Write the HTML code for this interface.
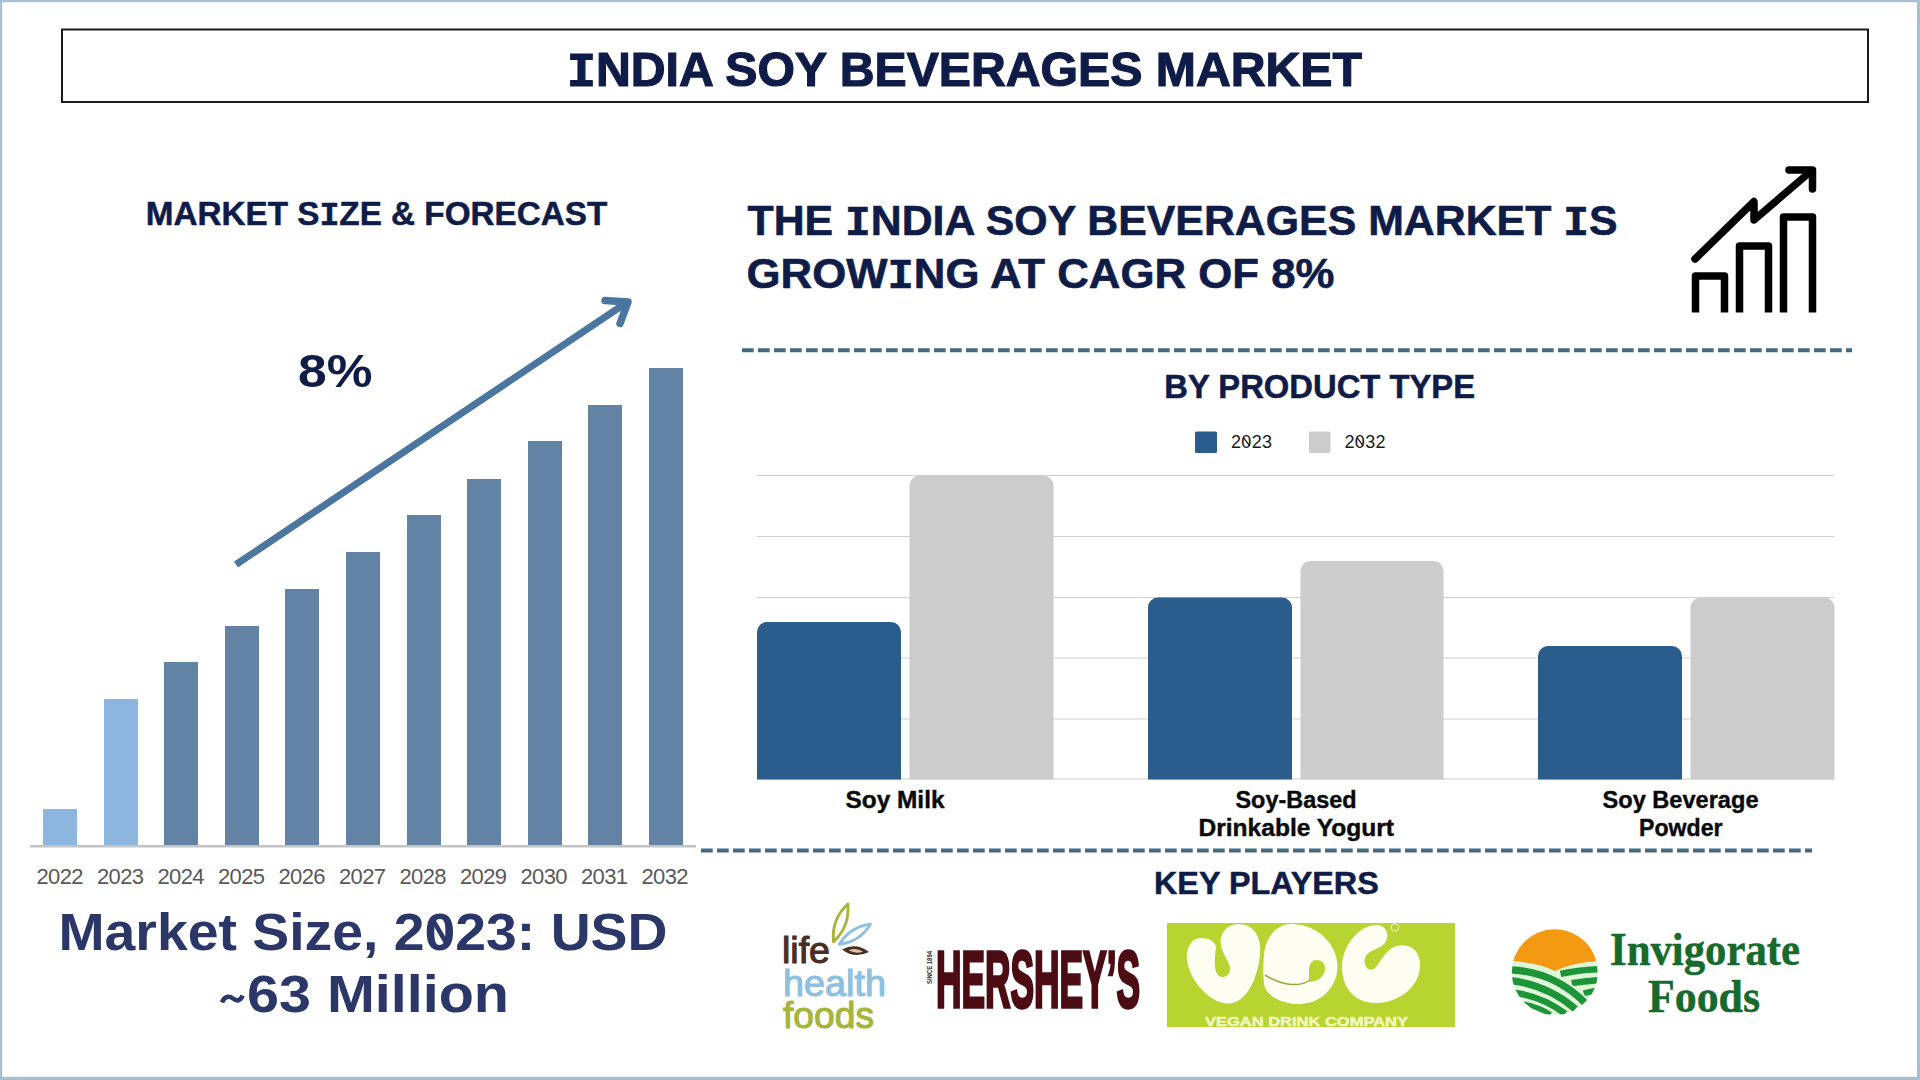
<!DOCTYPE html>
<html>
<head>
<meta charset="utf-8">
<style>
html,body{margin:0;padding:0;background:#fff;}
body{width:1920px;height:1080px;overflow:hidden;position:relative;}
svg{display:block;position:absolute;left:0;top:0;}
text{font-family:"Liberation Sans", sans-serif;}
.b{font-weight:bold;}
.navy{fill:#101c48;}
.m{font-family:"Liberation Mono", monospace;}
</style>
</head>
<body>
<svg width="1920" height="1080" viewBox="0 0 1920 1080">
  <!-- page frame -->
  <rect x="0" y="0" width="1920" height="1080" fill="#ffffff"/>
  <g fill="#a8bfd0"><rect x="0" y="0" width="1920" height="2.2"/><rect x="0" y="0" width="2.2" height="1080"/><rect x="1917" y="0" width="3" height="1080"/><rect x="0" y="1076.8" width="1920" height="3.2"/></g>

  <!-- title box -->
  <rect x="62" y="29.5" width="1806" height="72.5" fill="none" stroke="#1a1a1f" stroke-width="2"/>
  <text id="t_title" class="b navy" x="567" y="85.8" font-size="48.5" stroke="#101c48" stroke-width="1.2" textLength="795" lengthAdjust="spacingAndGlyphs"><tspan class="m">I</tspan>NDIA SOY BEVERAGES MARKET</text>

  <!-- left section -->
  <text id="t_msf" class="b navy" stroke="#101c48" stroke-width="0.5" x="145.7" y="224.8" font-size="33" textLength="461.6" lengthAdjust="spacingAndGlyphs">MARKET S<tspan class="m">I</tspan>ZE &amp; FORECAST</text>

  <g id="leftbars">
    <rect x="43" y="809" width="34" height="37" fill="#8cb6de"/>
    <rect x="104" y="699" width="34" height="147" fill="#8cb6de"/>
    <rect x="164" y="662" width="34" height="184" fill="#6283a4"/>
    <rect x="225" y="626" width="34" height="220" fill="#6283a4"/>
    <rect x="285" y="589" width="34" height="257" fill="#6283a4"/>
    <rect x="346" y="552" width="34" height="294" fill="#6283a4"/>
    <rect x="407" y="515" width="34" height="331" fill="#6283a4"/>
    <rect x="467" y="479" width="34" height="367" fill="#6283a4"/>
    <rect x="528" y="441" width="34" height="405" fill="#6283a4"/>
    <rect x="588" y="405" width="34" height="441" fill="#6283a4"/>
    <rect x="649" y="368" width="34" height="478" fill="#6283a4"/>
  </g>
  <rect x="30" y="845" width="666" height="2.5" fill="#c3c3c3"/>
  <g id="years" font-size="22" fill="#595959">
    <text x="36.5" y="884.4" textLength="47">2022</text>
    <text x="97" y="884.4" textLength="47">2023</text>
    <text x="157.5" y="884.4" textLength="47">2024</text>
    <text x="218" y="884.4" textLength="47">2025</text>
    <text x="278.5" y="884.4" textLength="47">2026</text>
    <text x="339" y="884.4" textLength="47">2027</text>
    <text x="399.5" y="884.4" textLength="47">2028</text>
    <text x="460" y="884.4" textLength="47">2029</text>
    <text x="520.5" y="884.4" textLength="47">2030</text>
    <text x="581" y="884.4" textLength="47">2031</text>
    <text x="641.5" y="884.4" textLength="47">2032</text>
  </g>

  <!-- growth arrow -->
  <g stroke="#4a76a0" stroke-width="7" fill="none">
    <line x1="236" y1="564.5" x2="626" y2="303" stroke-linecap="butt"/>
    <polyline points="605,300.5 628,302 620,323.5" stroke-linejoin="round" stroke-linecap="round" stroke-width="7.5"/>
  </g>
  <text id="t_8" class="b navy" x="298" y="387" font-size="46" textLength="74.4" lengthAdjust="spacingAndGlyphs">8%</text>

  <text id="t_ms1" class="b" fill="#2b3768" x="58.5" y="950.2" font-size="51" textLength="609" lengthAdjust="spacingAndGlyphs">Market Size, 2023: USD</text>
  <line x1="433.5" y1="921" x2="446" y2="942.5" stroke="#2b3768" stroke-width="4.5"/>
  <path d="M222,1002.5 C224.5,996 229,995.5 233,998.5 C237,1001.5 240.5,1001 242.5,995.5" fill="none" stroke="#2b3768" stroke-width="4.6" stroke-linecap="butt"/>
  <text id="t_ms2" class="b" fill="#2b3768" x="247" y="1012" font-size="51" textLength="262" lengthAdjust="spacingAndGlyphs">63 Million</text>

  <!-- right headline -->
  <text id="t_h1" class="b navy" stroke="#101c48" stroke-width="0.6" x="747.5" y="234.8" font-size="42" textLength="870" lengthAdjust="spacingAndGlyphs">THE <tspan class="m">I</tspan>NDIA SOY BEVERAGES MARKET <tspan class="m">I</tspan>S</text>
  <text id="t_h2" class="b navy" stroke="#101c48" stroke-width="0.6" x="746.5" y="287.9" font-size="42" textLength="588" lengthAdjust="spacingAndGlyphs">GROW<tspan class="m">I</tspan>NG AT CAGR OF 8%</text>

  <!-- growth icon -->
  <g stroke="#000" stroke-width="7.5" fill="none" stroke-linejoin="round">
    <polyline points="1695.5,312.5 1695.5,276 1724.5,276 1724.5,312.5"/>
    <polyline points="1739.5,312.5 1739.5,246 1768.5,246 1768.5,312.5"/>
    <polyline points="1783.5,312.5 1783.5,217 1812.5,217 1812.5,312.5"/>
    <polyline points="1695,259 1754,201.5 1754,220 1810,172" stroke-linecap="round"/>
    <polyline points="1789,170 1812.5,170 1812.5,189" stroke-linecap="round"/>
  </g>

  <!-- dashed separators -->
  <line x1="742" y1="350.3" x2="1852" y2="350.3" stroke="#426a84" stroke-width="4" stroke-dasharray="11.7 4.3"/>
  <line x1="701" y1="850.4" x2="1812" y2="850.4" stroke="#426a84" stroke-width="4" stroke-dasharray="11.7 4.3"/>

  <text id="t_bpt" class="b navy" stroke="#101c48" stroke-width="0.5" x="1164.3" y="398.3" font-size="33" textLength="310.7" lengthAdjust="spacingAndGlyphs">BY PRODUCT TYPE</text>

  <!-- legend -->
  <rect x="1195" y="431.5" width="22" height="21.5" rx="1.5" fill="#2a5d8c"/>
  <text x="1231" y="448.2" font-size="18" fill="#1a1a1a" textLength="41">2023</text>
  <rect x="1309" y="431.5" width="21.5" height="21.5" rx="1.5" fill="#cccccc"/>
  <text x="1344.5" y="448.2" font-size="18" fill="#1a1a1a" textLength="41">2032</text>
  <g stroke="#1a1a1a" stroke-width="1.3"><line x1="1243.6" y1="437.6" x2="1249.6" y2="445.8"/><line x1="1357.1" y1="437.6" x2="1363.1" y2="445.8"/></g>

  <!-- gridlines -->
  <g stroke="#cfcfcf" stroke-width="1">
    <line x1="757" y1="475.5" x2="1834" y2="475.5"/>
    <line x1="757" y1="536.5" x2="1834" y2="536.5"/>
    <line x1="757" y1="597.5" x2="1834" y2="597.5"/>
    <line x1="757" y1="658" x2="1834" y2="658"/>
    <line x1="757" y1="719" x2="1834" y2="719"/>
    <line x1="757" y1="779" x2="1834" y2="779"/>
  </g>

  <!-- product bars (rounded top corners) -->
  <g id="pbars">
    <path d="M757,779.5 V632 a10,10 0 0 1 10,-10 H891 a10,10 0 0 1 10,10 V779.5 Z" fill="#2a5d8c"/>
    <path d="M909.5,779.5 V485.5 a10,10 0 0 1 10,-10 H1043.5 a10,10 0 0 1 10,10 V779.5 Z" fill="#cccccc"/>
    <path d="M1148,779.5 V607.5 a10,10 0 0 1 10,-10 H1282 a10,10 0 0 1 10,10 V779.5 Z" fill="#2a5d8c"/>
    <path d="M1300.5,779.5 V571 a10,10 0 0 1 10,-10 H1433.5 a10,10 0 0 1 10,10 V779.5 Z" fill="#cccccc"/>
    <path d="M1538,779.5 V656 a10,10 0 0 1 10,-10 H1672 a10,10 0 0 1 10,10 V779.5 Z" fill="#2a5d8c"/>
    <path d="M1690.5,779.5 V607.5 a10,10 0 0 1 10,-10 H1824.5 a10,10 0 0 1 10,10 V779.5 Z" fill="#cccccc"/>
  </g>

  <!-- category labels -->
  <g class="b" font-size="23" fill="#0a0a0a" stroke="#0a0a0a" stroke-width="0.4">
    <text x="845.5" y="807.8" textLength="99" lengthAdjust="spacingAndGlyphs" font-weight="bold">Soy Milk</text>
    <text x="1235.5" y="807.8" textLength="121" lengthAdjust="spacingAndGlyphs" font-weight="bold">Soy-Based</text>
    <text x="1198.5" y="835.6" textLength="195.5" lengthAdjust="spacingAndGlyphs" font-weight="bold">Drinkable Yogurt</text>
    <text x="1602.5" y="807.9" textLength="156" lengthAdjust="spacingAndGlyphs" font-weight="bold">Soy Beverage</text>
    <text x="1639" y="835.7" textLength="83.5" lengthAdjust="spacingAndGlyphs" font-weight="bold">Powder</text>
  </g>

  <text id="t_kp" class="b navy" stroke="#101c48" stroke-width="0.5" x="1154" y="893.9" font-size="32" textLength="224.8" lengthAdjust="spacingAndGlyphs">KEY PLAYERS</text>

  <!-- LOGO: life health foods -->
  <g id="lhf">
    <text x="782" y="963" font-size="37" fill="#4a2e22" stroke="#4a2e22" stroke-width="1.1" textLength="48" lengthAdjust="spacingAndGlyphs">life</text>
    <text x="783" y="995.5" font-size="37" fill="#8ec0e0" stroke="#8ec0e0" stroke-width="1.1" textLength="103" lengthAdjust="spacingAndGlyphs">health</text>
    <text x="783" y="1027.9" font-size="37" fill="#a6b53a" stroke="#a6b53a" stroke-width="1.1" textLength="91" lengthAdjust="spacingAndGlyphs">foods</text>
    <path d="M833.5,941.7 Q850,926.4 847.8,904 Q831.3,919.3 833.5,941.7 Z" fill="none" stroke="#a6b53a" stroke-width="2.9" stroke-linejoin="round"/>
    <path d="M839.3,944.3 Q859.8,941.8 870.5,924.2 Q850,926.7 839.3,944.3 Z" fill="none" stroke="#8ec0e0" stroke-width="2.9" stroke-linejoin="round"/>
    <path d="M842,949.4 Q854.6,959.2 869,952 Q856.4,942.2 842,949.4 Z" fill="#4a2e22"/>
    <path d="M848.5,950.3 Q856,954.5 863,951.6 Q856,947.3 848.5,950.3 Z" fill="#d8c8a8"/>
  </g>

  <!-- LOGO: HERSHEY'S -->
  <g id="hershey">
    <text x="936" y="1006.5" font-size="79" font-weight="bold" fill="#4c0c14" stroke="#4c0c14" stroke-width="3.4" stroke-linejoin="miter" textLength="204" lengthAdjust="spacingAndGlyphs">HERSHEY’S</text>
    <text transform="translate(931.5,984) rotate(-90)" x="0" y="0" font-size="6.5" font-weight="bold" fill="#3a2a2a" textLength="33" lengthAdjust="spacingAndGlyphs">SINCE 1894</text>
  </g>

  <!-- LOGO: VGC -->
  <g id="vgc">
    <rect x="1167" y="923" width="288" height="104" fill="#b8d430"/>
    <g fill="#fdfdf2">
      <path d="M1201,938 C1190,938 1186,950 1187,960 C1189,980 1210,1003.5 1228,1003.5 C1248,1003.5 1258,975 1260,955 C1262,935 1252,924 1239,924 C1226,924 1219,935 1221,945 C1222,955 1231,962 1230,970 C1229,977 1222,979 1218,975 C1213,970 1215,955 1216,948 C1216,942 1210,938 1201,938 Z"/>
      <path d="M1291,924 C1318,924 1337.5,945 1337.5,966 C1337.5,988 1320,1004 1299,1004 C1282,1004 1265,996 1264,983 C1263,975 1263,965 1264,955 C1266,935 1278,924 1291,924 Z"/>
      <path d="M1376,925 C1388,925 1391,938 1383,945 C1377,950 1368,950 1365,958 C1363,965 1368,972 1374,969 C1379,965 1382,955 1392,948 C1402,942 1418,945 1420,962 C1422,985 1400,1003 1376,1003 C1352,1003 1342,985 1342,967 C1342,945 1360,925 1376,925 Z"/>
    </g>
    <g fill="#b8d430">
      <path d="M1316.5,960 C1322,960 1325,964 1325,968.5 C1325,976 1318,981.5 1309.5,982 C1309,978 1309,975 1309,971 C1309,964 1311.5,960 1316.5,960 Z"/>
    </g>
    <path d="M1310,980 C1301,986.5 1284,987 1265,975" fill="none" stroke="#94ab3a" stroke-width="1.5"/>
    <circle cx="1395" cy="927.5" r="3.8" fill="none" stroke="#f3f7c8" stroke-width="1"/>
    <text x="1205" y="1025.8" font-size="13.5" font-weight="bold" fill="#f3f7c0" stroke="#f3f7c0" stroke-width="0.5" textLength="203" lengthAdjust="spacingAndGlyphs">VEGAN DRINK COMPANY</text>
  </g>

  <!-- LOGO: Invigorate Foods -->
  <g id="invig">
    <defs><clipPath id="cc"><circle cx="1554.8" cy="972.2" r="43"/></clipPath></defs>
    <g clip-path="url(#cc)">
      <rect x="1510" y="925" width="90" height="95" fill="#dff6d8"/>
      <path d="M1505,925 H1605 V961 Q1575,961 1555,971 Q1535,961 1505,961 Z" fill="#f39a12"/>
      <g fill="none" stroke="#1e9438" stroke-linecap="butt">
        <path d="M1597.6,969.2 Q1577,970.1 1560.6,973.9" stroke-width="6.5"/>
        <path d="M1599,980.3 Q1583.7,981.3 1571.7,983.1" stroke-width="6.5"/>
        <path d="M1599,990.5 Q1590,991.5 1583.7,993.3" stroke-width="6"/>
        <path d="M1508,969.7 Q1553,971 1584.6,1002.5" stroke-width="11" stroke="#dff6d8"/>
        <path d="M1508,969.7 Q1553,971 1584.6,1002.5" stroke-width="7.2"/>
        <path d="M1508,980.3 Q1546.7,984 1575.4,1009" stroke-width="7"/>
        <path d="M1512,992.4 Q1542,996 1565.2,1013.7" stroke-width="6.5"/>
        <path d="M1520,1003.5 Q1537.4,1006 1550.4,1014.6" stroke-width="5"/>
      </g>
    </g>
    <text x="1610" y="965.3" font-size="46" font-weight="bold" fill="#166b2c" stroke="#166b2c" stroke-width="0.5" textLength="190" lengthAdjust="spacingAndGlyphs" style="font-family:'Liberation Serif',serif">Invigorate</text>
    <text x="1648" y="1012.3" font-size="46" font-weight="bold" fill="#166b2c" stroke="#166b2c" stroke-width="0.5" textLength="112" lengthAdjust="spacingAndGlyphs" style="font-family:'Liberation Serif',serif">Foods</text>
  </g>
</svg>
</body>
</html>
